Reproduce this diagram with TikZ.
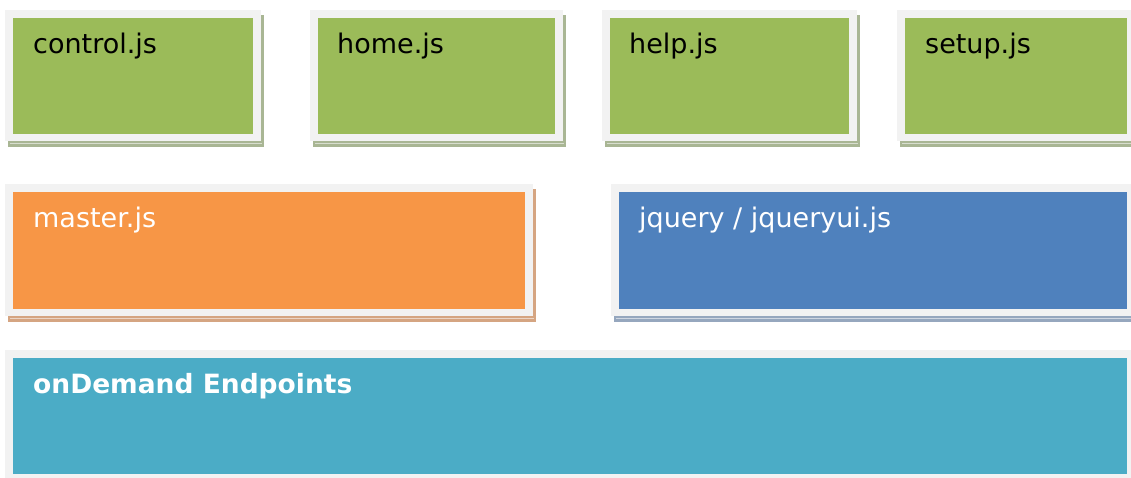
\documentclass[tikz,border=0pt]{standalone}
\usepackage{fontspec}
\setmainfont{DejaVu Sans}
\definecolor{frame}{HTML}{F2F2F2}
\definecolor{cgreen}{HTML}{9BBB59}
\definecolor{sgreen}{HTML}{A9B694}
\definecolor{corange}{HTML}{F79646}
\definecolor{sorange}{HTML}{D5A582}
\definecolor{cblue}{HTML}{4F81BD}
\definecolor{sblue}{HTML}{96A7BE}
\definecolor{cteal}{HTML}{4BACC6}
\definecolor{steal}{HTML}{9CC6D2}
\newcommand{\mybox}[8]{%
  % #1 x1, #2 y1, #3 x2, #4 y2, #5 fill, #6 shadow, #7 name
  \fill[#6] (#1+3,#2+5) rectangle (#3+3,#4+6);
  \draw[white!55!#6,line width=1pt] (#1+5,#4+2.5) -- (#3+1,#4+2.5);
  \fill[frame] (#1,#2) rectangle (#3,#4);
  \node[inner sep=0pt,fill=#5,anchor=north west,minimum width={(#3-#1-16)*1pt},minimum height={(#4-#2-15)*1pt}] (#7) at (#1+8,#2+8) {};
}
\tikzset{lbl/.style={anchor=base west,inner sep=0pt,font=\fontsize{27}{32}\selectfont}}
\begin{document}
\begin{tikzpicture}[x=1pt,y=-1pt]
\useasboundingbox (0,0) rectangle (1131,477);
\clip (0,0) rectangle (1131,477);
\mybox{5}{10}{261}{141}{cgreen}{sgreen}{control}{}
\mybox{310}{10}{563}{141}{cgreen}{sgreen}{home}{}
\mybox{602}{10}{857}{141}{cgreen}{sgreen}{help}{}
\mybox{897}{10}{1135}{141}{cgreen}{sgreen}{setup}{}
\mybox{5}{184}{533}{316}{corange}{sorange}{master}{}
\mybox{611}{184}{1135}{316}{cblue}{sblue}{jquery}{}
\mybox{5}{350}{1135}{481}{cteal}{steal}{ondemand}{}
\node[lbl,text=black] (tcontrol) at (33,53) {control.js};
\node[lbl,text=black] (thome) at (337,53) {home.js};
\node[lbl,text=black] (thelp) at (629,53) {help.js};
\node[lbl,text=black] (tsetup) at (925,53) {setup.js};
\node[lbl,text=white] (tmaster) at (33,227) {master.js};
\node[lbl,text=white] (tjquery) at (639,227) {jquery / jqueryui.js};
\node[lbl,text=white,font=\fontsize{26.5}{32}\selectfont\bfseries] (tond) at (33,393) {onDemand Endpoints};
\end{tikzpicture}
\end{document}
